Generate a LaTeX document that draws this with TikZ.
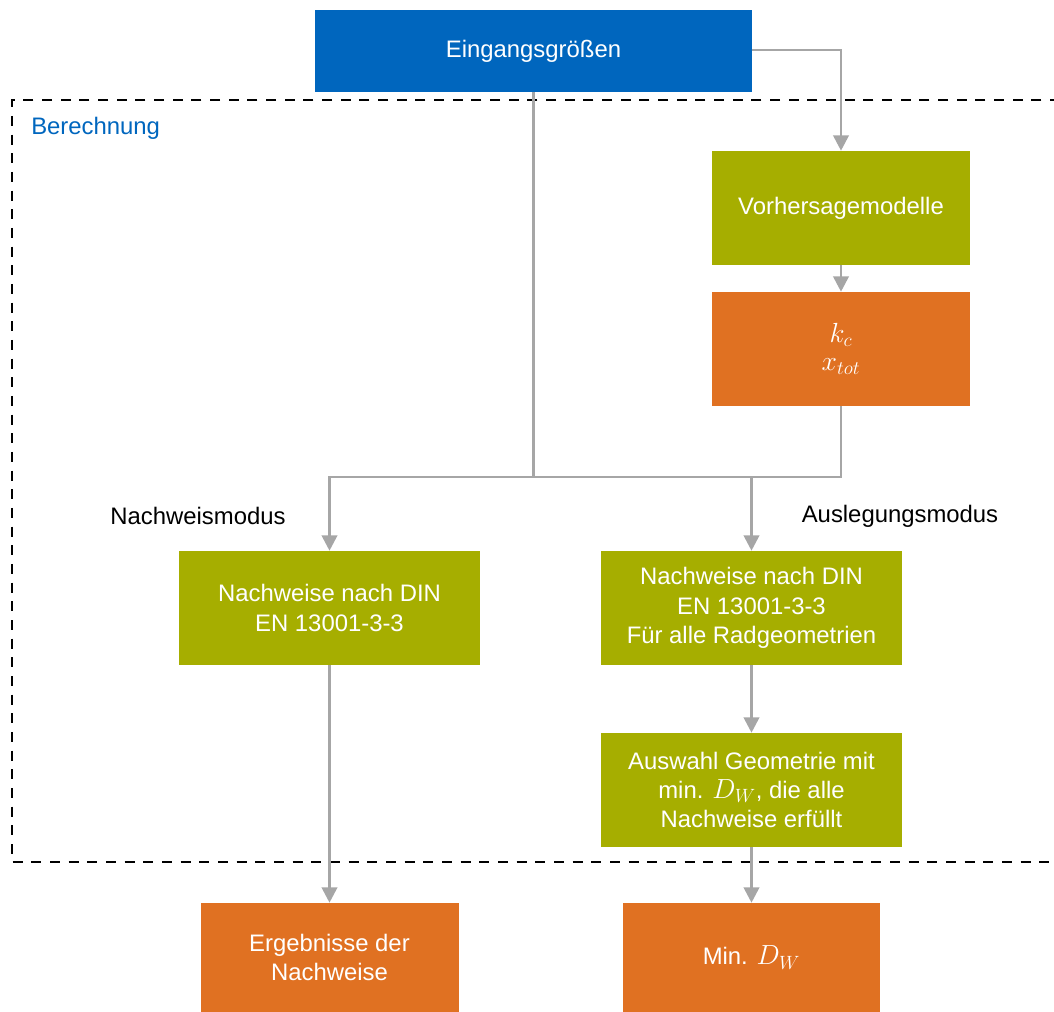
\documentclass[tikz,border=0pt]{standalone}
\usepackage{fontspec}
\setmainfont{Liberation Sans}
\usetikzlibrary{arrows.meta}
\definecolor{inblue}{HTML}{0066BE}
\definecolor{calcgreen}{HTML}{A6AE00}
\definecolor{resorange}{HTML}{E07122}
\definecolor{flowgray}{HTML}{A6A6A6}
% math symbols set a little larger so they match the sans text
\newcommand{\bigmath}[1]{{\fontsize{20.5}{22}\selectfont$#1$}}
\tikzset{
  box/.style n args={3}{draw=none, fill=#1, text=white, align=center,
    minimum width={#2*0.75pt}, minimum height={#3*0.75pt}, inner sep=0pt,
    font=\fontsize{17.9}{22}\selectfont},
  flow/.style={draw=flowgray, line width=2.1pt, -{Triangle[length=11.5pt,width=11.5pt]}},
  flowline/.style={draw=flowgray, line width=2.1pt},
  frame/.style={draw=black, line width=2pt, dash pattern=on 7.5pt off 6.5pt},
  lbl/.style={font=\fontsize{17.9}{22}\selectfont, inner sep=0pt}
}
\begin{document}
\begin{tikzpicture}[x=0.75pt,y=-0.75pt]
\useasboundingbox (0,0) rectangle (1054,1012);

% calculation frame (open on the right)
\draw[frame] (1060,100) -- (12,100) -- (12,862) -- (1060,862);
\node[lbl, text=inblue, anchor=west] (berechnung) at (31,128) {Berechnung};

% boxes
\node[box={inblue}{437}{82}] (in) at (533.5,51) {Eingangsgrößen};
\node[box={calcgreen}{258}{114}] (model) at (841,208) {Vorhersagemodelle};
\node[box={resorange}{258}{114}] (kc) at (841,349) {\bigmath{k_c}\\[-1pt]\bigmath{x_{tot}}};
\node[box={calcgreen}{301}{114}] (nwl) at (329.5,608) {Nachweise nach DIN\\EN 13001-3-3};
\node[box={calcgreen}{301}{114}] (nwr) at (751.5,608) {Nachweise nach DIN\\EN 13001-3-3\\Für alle Radgeometrien};
\node[box={calcgreen}{301}{114}] (sel) at (751.5,790) {Auswahl Geometrie mit\\min. \bigmath{D_W}, die alle\\Nachweise erfüllt};
\node[box={resorange}{258}{109}] (res) at (329.5,957.5) {Ergebnisse der\\Nachweise};
\node[box={resorange}{257}{109}] (dmin) at (751.5,957.5) {Min. \bigmath{D_W}};

% mode labels
\node[lbl] (nmod) at (198,516) {Nachweismodus};
\node[lbl] (amod) at (900,516) {Auslegungsmodus};

% connectors
\coordinate (join) at (533.5,477);
\draw[flow] (in.east |- 0,50) -| (model.north);
\draw[flow] (model) -- (kc);
\draw[flowline] (in.south) -- (join);
\draw[flow] (kc.south) |- (nwl.north |- join) -- (nwl.north);
\draw[flow] (nwr.north |- join) -- (nwr.north);
\draw[flow] (nwl.south) -- (res.north);
\draw[flow] (nwr.south) -- (sel.north);
\draw[flow] (sel.south) -- (dmin.north);
\end{tikzpicture}
\end{document}
